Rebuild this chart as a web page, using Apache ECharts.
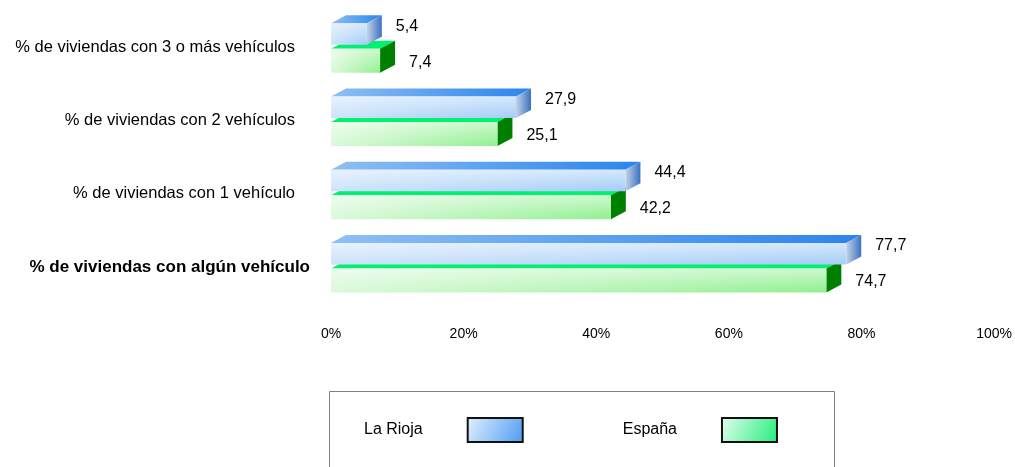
<!DOCTYPE html>
<html>
<head>
<meta charset="utf-8">
<script src="https://cdn.jsdelivr.net/npm/echarts@6/dist/echarts.min.js"></script>
<style>
html,body{margin:0;padding:0;background:#fff;}
#chart{width:1015px;height:467px;}
</style>
</head>
<body>
<div id="chart"></div>
<script>
const categories = [
  '% de viviendas con 3 o más vehículos',
  '% de viviendas con 2 vehículos',
  '% de viviendas con 1 vehículo',
  '% de viviendas con algún vehículo'
];
const seriesNames = ['La Rioja', 'España'];
const laRioja = [5.4, 27.9, 44.4, 77.7];
const espana = [7.4, 25.1, 42.2, 74.7];
const xTicks = [0, 20, 40, 60, 80, 100];

const FONT = '"Liberation Sans", Arial, sans-serif';
const G = echarts.graphic.LinearGradient;
const shine = new G(0, 0, 0, 1, [
  {offset: 0, color: 'rgba(255,255,255,0.55)'},
  {offset: 1, color: 'rgba(255,255,255,0)'}
]);

const styles = [
  {
    front: new G(0, 0, 1, 0, [{offset: 0, color: '#cde3fb'}, {offset: 1, color: '#a4cdf8'}]),
    top: new G(0, 0, 1, 0, [{offset: 0, color: '#8ec0f4'}, {offset: 1, color: '#2a84ee'}]),
    side: new G(0, 0, 1, 0, [{offset: 0, color: '#c4d2e6'}, {offset: 1, color: '#3a72c2'}]),
    legend: new G(0, 0, 1, 1, [{offset: 0, color: '#e4effd'}, {offset: 1, color: '#4d9cf2'}])
  },
  {
    front: new G(0, 0, 1, 0, [{offset: 0, color: '#daf9da'}, {offset: 1, color: '#90f090'}]),
    top: '#00f070',
    side: '#008000',
    legend: new G(0, 0, 1, 1, [{offset: 0, color: '#e4fdee'}, {offset: 1, color: '#22ee7c'}])
  }
];

const DX = 15, DY = 8;

function makeRender(kind) {
  return function (params, api) {
    const v = api.value(0);
    const ci = api.value(1);
    const p0 = api.coord([0, ci]);
    const p1 = api.coord([v, ci]);
    const c = p0[1];
    const x0 = p0[0], x1 = p1[0];
    const yT = kind === 0 ? c - 24 : c + 1.5;
    const h = kind === 0 ? 21.5 : 24;
    const yB = yT + h;
    const st = styles[kind];
    const children = [
      {type: 'polygon', shape: {points: [[x0, yT], [x1, yT], [x1 + DX, yT - DY], [x0 + DX, yT - DY]]}, style: {fill: st.top}},
      {type: 'polygon', shape: {points: [[x1, yT], [x1 + DX, yT - DY], [x1 + DX, yB - DY], [x1, yB]]}, style: {fill: st.side}},
      {type: 'rect', shape: {x: x0, y: yT, width: x1 - x0, height: h}, style: {fill: st.front}},
      {type: 'rect', shape: {x: x0, y: yT, width: x1 - x0, height: h}, style: {fill: shine}},
      {type: 'text', x: x1 + 29, y: kind === 0 ? c - 21 : c + 15,
        style: {text: String(v).replace('.', ','), fill: '#000', font: '16px ' + FONT, align: 'left', verticalAlign: 'middle'}}
    ];
    return {type: 'group', children: children};
  };
}

const chart = echarts.init(document.getElementById('chart'));
chart.setOption({
  animation: false,
  backgroundColor: '#fff',
  grid: {left: 331, right: 20, top: 10.5, bottom: 163.5, containLabel: false},
  xAxis: {
    type: 'value', min: 0, max: 100, interval: 20,
    axisLine: {show: false}, axisTick: {show: false}, splitLine: {show: false},
    axisLabel: {
      margin: 24, color: '#000', fontSize: 14, fontFamily: FONT,
      customValues: xTicks,
      formatter: function (v) { return v + '%'; }
    }
  },
  yAxis: {
    type: 'category', inverse: true, data: categories,
    axisLine: {show: false}, axisTick: {show: false}, splitLine: {show: false},
    axisLabel: {
      margin: 21, color: '#000', fontFamily: FONT,
      formatter: function (v, i) { return i === categories.length - 1 ? '{b|' + v + '}' : '{n|' + v + '}'; },
      rich: {
        n: {fontSize: 16.5, fontFamily: FONT, color: '#000', padding: [0, 15, 0, 0]},
        b: {fontSize: 17, fontFamily: FONT, color: '#000', fontWeight: 'bold'}
      }
    }
  },
  legend: {
    data: seriesNames,
    left: 364, top: 417, padding: 0,
    align: 'right',
    itemWidth: 55, itemHeight: 24, itemGap: 99,
    icon: 'rect',
    itemStyle: {borderColor: '#111', borderWidth: 2},
    formatter: function (name) { return '{t|' + name + '}'; },
    textStyle: {
      color: '#000', fontSize: 16, fontFamily: FONT,
      rich: {t: {fontSize: 16, fontFamily: FONT, color: '#000', padding: [0, 40, 0, 0]}}
    }
  },
  graphic: [{
    type: 'rect', silent: true,
    shape: {x: 329.5, y: 391.5, width: 505, height: 120},
    style: {fill: 'none', stroke: '#808080', lineWidth: 1}
  }],
  series: [
    {
      name: seriesNames[0], type: 'custom', z: 3, clip: false,
      itemStyle: {color: styles[0].legend},
      encode: {x: 0, y: 1},
      renderItem: makeRender(0),
      data: laRioja.map(function (v, i) { return [v, i]; })
    },
    {
      name: seriesNames[1], type: 'custom', z: 2, clip: false,
      itemStyle: {color: styles[1].legend},
      encode: {x: 0, y: 1},
      renderItem: makeRender(1),
      data: espana.map(function (v, i) { return [v, i]; })
    }
  ]
});
</script>
</body>
</html>
